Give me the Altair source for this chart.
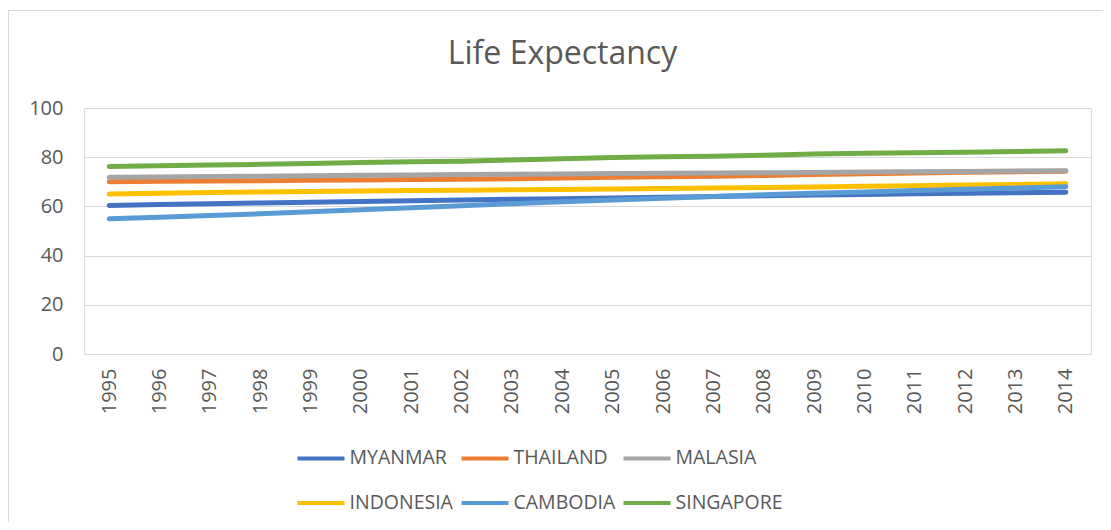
import altair as alt
import pandas as pd

years = [str(y) for y in range(1995, 2015)]
countries = ["MYANMAR", "THAILAND", "MALASIA", "INDONESIA", "CAMBODIA", "SINGAPORE"]
colors = ["#4472C4", "#ED7D31", "#A5A5A5", "#FFC000", "#5B9BD5", "#70AD47"]

myanmar = [60.4, 60.8, 61.1, 61.4, 61.7, 62.0, 62.3, 62.6, 62.9, 63.1,
           63.4, 63.7, 64.0, 64.3, 64.6, 64.8, 65.1, 65.3, 65.5, 65.8]
thailand = [70.0, 70.2, 70.3, 70.4, 70.6, 70.7, 70.9, 71.0, 71.2, 71.5,
            71.8, 72.1, 72.3, 72.6, 73.0, 73.3, 73.6, 73.9, 74.1, 74.3]
malasia = [71.8, 72.0, 72.2, 72.3, 72.5, 72.7, 72.8, 73.0, 73.1, 73.2,
           73.4, 73.5, 73.6, 73.7, 73.8, 74.0, 74.1, 74.2, 74.4, 74.5]
indonesia = [65.0, 65.3, 65.6, 65.9, 66.1, 66.3, 66.5, 66.6, 66.8, 66.9,
             67.1, 67.3, 67.5, 67.7, 67.9, 68.2, 68.4, 68.7, 68.9, 69.2]
cambodia = [55.0, 55.6, 56.3, 57.0, 57.8, 58.6, 59.5, 60.3, 61.1, 61.9,
            62.6, 63.3, 64.0, 64.7, 65.3, 65.9, 66.5, 67.0, 67.5, 68.0]
singapore = [76.2, 76.5, 76.8, 77.1, 77.4, 77.8, 78.1, 78.4, 78.9, 79.4,
             79.9, 80.2, 80.4, 80.8, 81.3, 81.6, 81.8, 82.0, 82.3, 82.6]

series = [myanmar, thailand, malasia, indonesia, cambodia, singapore]
y_ticks = [0, 20, 40, 60, 80, 100]

rows = []
for i, (name, vals) in enumerate(zip(countries, series)):
    for yr, v in zip(years, vals):
        rows.append({"Year": yr, "Country": name, "Value": v, "order": i})
df = pd.DataFrame(rows)

FONT = "Open Sans"
TXT = "#595959"
GRID = "#D9D9D9"

lines = alt.Chart(df).mark_line(strokeWidth=5, strokeCap="round", strokeJoin="round").encode(
    x=alt.X("Year:O", sort=years,
            scale=alt.Scale(type="point", padding=0.5),
            axis=alt.Axis(title=None, labelAngle=-90, ticks=False, domainColor=GRID,
                          domainWidth=1, labelPadding=14, labelFont=FONT,
                          labelFontSize=20, labelColor=TXT, grid=False)),
    y=alt.Y("Value:Q", scale=alt.Scale(domain=[0, 100], nice=False),
            axis=alt.Axis(title=None, values=y_ticks, ticks=False, domain=False,
                          gridColor=GRID, gridWidth=1, labelPadding=21,
                          labelFont=FONT, labelFontSize=20, labelColor=TXT)),
    color=alt.Color("Country:N", sort=countries,
                    scale=alt.Scale(domain=countries, range=colors),
                    legend=alt.Legend(title=None, orient="none", legendX=211.5, legendY=324.9,
                                      direction="horizontal",
                                      columns=3, gridAlign="each", symbolType="stroke",
                                      symbolSize=2209, symbolStrokeWidth=4,
                                      labelFont=FONT, labelFontSize=19.5, labelColor=TXT,
                                      labelOffset=3,
                                      columnPadding=0, rowPadding=9.5)),
    order=alt.Order("order:Q"),
    detail="Country:N",
)

top_border = alt.Chart(df).mark_rule(color=GRID, strokeWidth=1).encode(
    x=alt.value(-76), x2=alt.value(1019), y=alt.value(-97.5))
left_border = alt.Chart(df).mark_rule(color=GRID, strokeWidth=1).encode(
    x=alt.value(-75.5), y=alt.value(-97.5), y2=alt.value(414))

chart = alt.layer(lines, top_border, left_border).properties(
    width=1007, height=246,
    title=alt.TitleParams("Life Expectancy", font=FONT, fontSize=32, fontWeight="normal",
                          color=TXT, anchor="middle", dx=-25, offset=-86,
                          baseline="alphabetic"),
    autosize=alt.AutoSizeParams(type="none"),
    padding={"left": 76, "top": 100, "right": 12, "bottom": 168},
).configure_view(stroke=None).configure(background="white")

chart.save("out.html", embed_options={"renderer": "svg", "actions": False})
